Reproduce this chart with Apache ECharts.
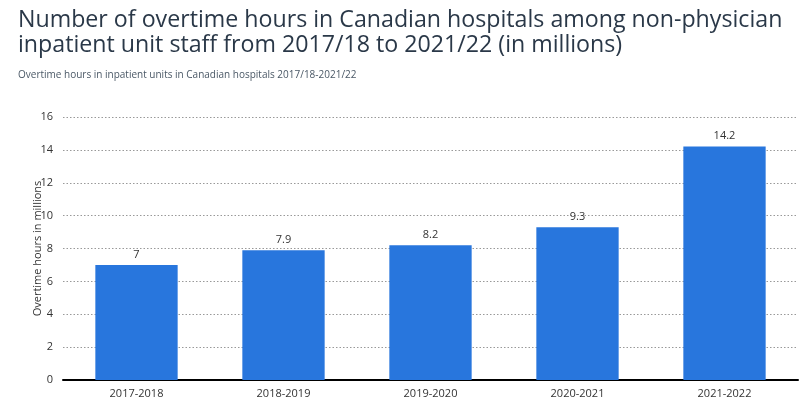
<!DOCTYPE html>
<html><head><meta charset="utf-8">
<script src="https://cdn.jsdelivr.net/npm/echarts@6/dist/echarts.min.js"></script>
<style>html,body{margin:0;padding:0;background:#fff}#c{width:811px;height:406px}</style>
</head><body><div id="c"></div>
<script>
const categories = ['2017-2018','2018-2019','2019-2020','2020-2021','2021-2022'];
const values = [7, 7.9, 8.2, 9.3, 14.2];
const yTicks = [0,2,4,6,8,10,12,14,16];
const titleText = 'Number of overtime hours in Canadian hospitals among non-physician\ninpatient unit staff from 2017/18 to 2021/22 (in millions)';
const subtitleText = 'Overtime hours in inpatient units in Canadian hospitals 2017/18-2021/22';
const yName = 'Overtime hours in millions';

const chart = echarts.init(document.getElementById('c'));
chart.setOption({
  animation:false,
  textStyle:{fontFamily:'Open Sans'},
  title:[{
    text:titleText, left:13, top:3,
    textStyle:{fontFamily:'Open Sans', fontSize:23.2, fontWeight:'normal', color:'#2a3848', lineHeight:25}
  },{
    text:subtitleText, left:13, top:65,
    textStyle:{fontFamily:'Open Sans', fontSize:10, fontWeight:'normal', color:'#4a5866'}
  }],
  grid:{left:63, right:13, top:117, bottom:26},
  xAxis:{
    type:'category', data:categories,
    axisLine:{lineStyle:{color:'#000', width:2}},
    axisTick:{show:false},
    axisLabel:{color:'#333', fontSize:11, margin:8}
  },
  yAxis:{
    type:'value', min:0, max:16, interval:2,
    name:yName, nameLocation:'middle', nameGap:20, nameMoveOverlap:false,
    nameTextStyle:{color:'#333', fontSize:11},
    axisLine:{show:false}, axisTick:{show:false},
    axisLabel:{color:'#333', fontSize:11, margin:10, formatter:v=>yTicks.includes(v)?String(v):''},
    splitLine:{lineStyle:{color:'#999', type:[1.5,2], width:1}}
  },
  series:[{
    type:'bar', data:values, barWidth:'56%',
    itemStyle:{color:'#2876dd'},
    label:{show:true, position:'top', color:'#333', fontSize:11, distance:5}
  }]
});
</script></body></html>
